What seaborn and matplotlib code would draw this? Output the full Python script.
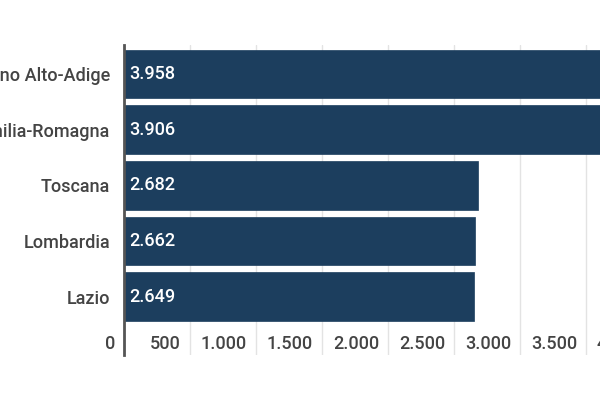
import matplotlib
matplotlib.use("Agg")
import matplotlib.pyplot as plt
import matplotlib.transforms as mtransforms
import pandas as pd
import seaborn as sns

# dati
regioni = ["Trentino Alto-Adige", "Emilia-Romagna", "Toscana", "Lombardia", "Lazio"]
valori = [3958, 3906, 2682, 2662, 2649]
x_ticks = [0, 500, 1000, 1500, 2000, 2500, 3000, 3500, 4000, 4500]


def fmt_it(v):
    return f"{v:,}".replace(",", ".")


df = pd.DataFrame({"regione": regioni, "valore": valori})

sns.set_theme(style="white")
plt.rcParams["font.family"] = ["Roboto", "DejaVu Sans"]
plt.rcParams["font.weight"] = "medium"

fig = plt.figure(figsize=(6, 4), dpi=100)
# asse piu' largo della figura: il grafico originale e' tagliato a destra e a sinistra
ax = fig.add_axes([124 / 600, 45 / 400, 594 / 600, 310 / 400])

sns.barplot(data=df, x="valore", y="regione", orient="h", color="#1c3e5e",
            saturation=1, width=0.875, ax=ax, edgecolor="#1c3e5e", linewidth=0.5)

ax.set_xlim(0, 4500)
ax.set_ylim(5.05, -0.52)
ax.set_xlabel("")
ax.set_ylabel("")

# griglia verticale
ax.set_axisbelow(True)
ax.grid(axis="x", color="#e3e3e3", linewidth=1)
ax.grid(axis="y", visible=False)

for side in ["top", "right", "bottom"]:
    ax.spines[side].set_visible(False)
ax.spines["left"].set_color("#555555")
ax.spines["left"].set_linewidth(2)

ax.set_xticks(x_ticks)
ax.set_xticklabels([fmt_it(t) for t in x_ticks])
ax.tick_params(axis="x", length=0, pad=0, labelsize=13, labelcolor="#444444")
ax.tick_params(axis="y", length=0, pad=10, labelsize=13, labelcolor="#444444")

# etichette asse x dentro l'area, allineate a destra della linea di griglia
offset = mtransforms.ScaledTranslation(-0.09, 0.11, fig.dpi_scale_trans)
for lab in ax.get_xticklabels():
    lab.set_horizontalalignment("right")
    lab.set_verticalalignment("center")
    lab.set_transform(lab.get_transform() + offset)

# valori dentro le barre
for i, v in enumerate(valori):
    ax.annotate(fmt_it(v), xy=(0, i), xytext=(4, 0), textcoords="offset points",
                ha="left", va="center", color="white", fontsize=13)

fig.savefig("out.png", dpi=100)
